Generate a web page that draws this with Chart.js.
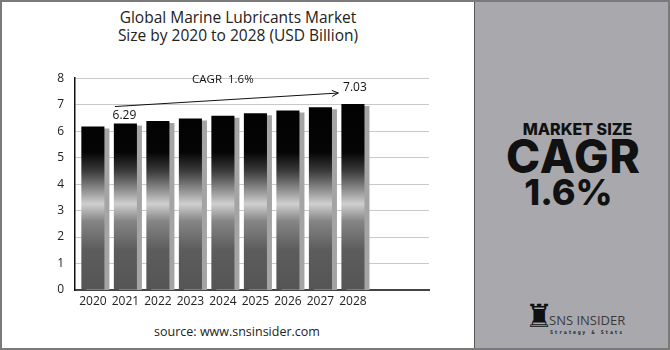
<!DOCTYPE html>
<html>
<head>
<meta charset="utf-8">
<script src="https://cdn.jsdelivr.net/npm/chart.js@4.4.1/dist/chart.umd.min.js"></script>
<style>
  html, body { margin: 0; padding: 0; background: #fff; }
  #page { position: relative; width: 670px; height: 350px; box-sizing: border-box;
          border: 2px solid #7a7a7a; overflow: hidden; font-family: "Open Sans", sans-serif; }
  #title { position: absolute; left: 0; top: 6px; width: 472px; text-align: center;
           font-size: 15.5px; line-height: 18px; color: #222; }
  #source { position: absolute; left: 0; top: 321px; width: 470px; text-align: center;
            font-size: 12.5px; color: #222; }
  #chartBox { position: absolute; left: -2px; top: 58px; width: 474px; height: 252px; }
  #side { position: absolute; left: 472px; top: -2px; width: 198px; height: 352px;
          background: #a9a9ad; border-left: 1px solid #555; box-sizing: border-box;
          font-family: Inter, sans-serif; color: #111; text-align: center; }
  #side .l1 { position: absolute; left: 0; width: 100%; top: 119px; font-size: 16px; font-weight: 800; padding-left: 4px; }
  #side .l2 { position: absolute; left: 0; width: 100%; top: 128px; font-size: 46px; font-weight: 800; letter-spacing: 1px; }
  #side .l3 { position: absolute; left: 0; width: 100%; top: 170px; font-size: 36px; font-weight: 800; padding-right: 10px; box-sizing: border-box; }
  #logo { position: absolute; left: 50px; top: 298px; width: 120px; height: 40px; }
  #logo .icon { position: absolute; left: 0; top: 0; font-size: 32px; line-height: 36px; color: #111; font-family: "DejaVu Sans"; }
  #logo .name { position: absolute; left: 24px; top: 13px; font-size: 13px; color: #3a3a3a; font-family: "Open Sans", sans-serif; }
  #logo .tag { position: absolute; left: 25px; top: 31px; font-size: 5px; letter-spacing: 1.6px; color: #222; font-family: "DejaVu Sans Mono"; font-weight: bold; }
</style>
</head>
<body>
<div id="page">
  <div id="title">Global Marine Lubricants Market<br>Size by 2020 to 2028 (USD Billion)</div>
  <div id="chartBox"><canvas id="marketChart"></canvas></div>
  <div id="source">source: www.snsinsider.com</div>
  <div id="side">
    <div class="l1">MARKET SIZE</div>
    <div class="l2">CAGR</div>
    <div class="l3">1.6%</div>
    <div id="logo">
      <div class="icon">&#9820;</div>
      <div class="name">SNS INSIDER</div>
      <div class="tag">Strategy &amp; Stats</div>
    </div>
  </div>
</div>
<script>
// market values (USD billion)
const years = [2020, 2021, 2022, 2023, 2024, 2025, 2026, 2027, 2028];
const marketSize = [6.18, 6.29, 6.38, 6.48, 6.58, 6.68, 6.78, 6.9, 7.03];
const yTicks = [0, 1, 2, 3, 4, 5, 6, 7, 8];
const labelledYears = [2021, 2028];
const cagrText = 'CAGR  1.6%';

function barGradient(chart) {
    const { ctx, chartArea, scales } = chart;
    if (!chartArea) return '#222';
    const y0 = scales.y.getPixelForValue(0);
    const y8 = scales.y.getPixelForValue(8);
    const g = ctx.createLinearGradient(0, y0, 0, y8);
    g.addColorStop(0, '#555');
    g.addColorStop(1.5 / 8, '#5c5c5c');
    g.addColorStop(2.6 / 8, '#858585');
    g.addColorStop(3.25 / 8, '#cfcfcf');
    g.addColorStop(3.8 / 8, '#8c8c8c');
    g.addColorStop(4.5 / 8, '#3a3a3a');
    g.addColorStop(5.2 / 8, '#050505');
    g.addColorStop(1, '#000');
    return g;
}

// grey drop shadow to the right of each bar
const barShadow = {
    id: 'barShadow',
    beforeDatasetsDraw(chart) {
        const ctx = chart.ctx;
        ctx.save();
        ctx.shadowColor = '#a4a4a4';
        ctx.shadowOffsetX = 5;
        ctx.shadowOffsetY = 2;
        ctx.shadowBlur = 0;
    },
    afterDatasetsDraw(chart) {
        chart.ctx.restore();
    }
};

// value labels and the CAGR arrow
const annotations = {
    id: 'annotations',
    afterDraw(chart) {
        const { ctx, scales: { x, y } } = chart;
        ctx.save();
        ctx.fillStyle = '#111';
        ctx.font = '12px "Open Sans"';
        ctx.textAlign = 'center';
        ctx.textBaseline = 'bottom';
        labelledYears.forEach(yr => {
            const i = years.indexOf(yr);
            const px = x.getPixelForValue(yr);
            const lift = yr === 2028 ? 10 : 2;
            ctx.fillText(marketSize[i].toFixed(2), px + (yr === 2028 ? 2 : -1), y.getPixelForValue(marketSize[i]) - lift);
        });
        const x1 = x.getPixelForValue(2020.68), y1 = y.getPixelForValue(6.93);
        const x2 = x.getPixelForValue(2027.55), y2 = y.getPixelForValue(7.44);
        ctx.strokeStyle = '#111';
        ctx.lineWidth = 1;
        ctx.beginPath();
        ctx.moveTo(x1, y1);
        ctx.lineTo(x2, y2);
        const a = Math.atan2(y2 - y1, x2 - x1);
        ctx.moveTo(x2 - 7 * Math.cos(a - 0.45), y2 - 7 * Math.sin(a - 0.45));
        ctx.lineTo(x2, y2);
        ctx.lineTo(x2 - 7 * Math.cos(a + 0.45), y2 - 7 * Math.sin(a + 0.45));
        ctx.stroke();
        ctx.font = '11.5px "Open Sans"';
        ctx.textAlign = 'left';
        ctx.textBaseline = 'middle';
        ctx.fillText(cagrText, x.getPixelForValue(2023.05), y.getPixelForValue(7.95));
        ctx.restore();
    }
};

const ctx = document.getElementById('marketChart').getContext('2d');
new Chart(ctx, {
    type: 'bar',
    data: {
        datasets: [{
            data: years.map((yr, i) => ({ x: yr, y: marketSize[i] })),
            backgroundColor: c => barGradient(c.chart),
            borderWidth: 0,
            barPercentage: 0.71,
            categoryPercentage: 1
        }]
    },
    options: {
        responsive: true,
        maintainAspectRatio: false,
        animation: false,
        layout: { padding: { left: 35, right: 45, top: 16, bottom: 0 } },
        plugins: { legend: { display: false }, tooltip: { enabled: false } },
        scales: {
            x: {
                type: 'linear',
                offset: false,
                min: 2019.45,
                max: 2030.34,
                afterBuildTicks: s => { s.ticks = years.map(v => ({ value: v })); },
                afterFit: s => { s.height = 22; },
                grid: { display: false, drawTicks: false },
                border: { color: '#444', width: 2 },
                ticks: {
                    color: '#222',
                    font: { family: 'Open Sans', size: 12 },
                    padding: 4,
                    maxRotation: 0,
                    callback: v => String(v)
                }
            },
            y: {
                min: 0,
                max: 8,
                afterBuildTicks: s => { s.ticks = yTicks.map(v => ({ value: v })); },
                afterFit: s => { s.width = 40; },
                grid: { color: '#c9c9c9', lineWidth: 1, drawTicks: false },
                border: { color: '#111', width: 1.5 },
                ticks: {
                    color: '#222',
                    font: { family: 'Open Sans', size: 12 },
                    padding: 11
                }
            }
        }
    },
    plugins: [barShadow, annotations]
});
</script>
</body>
</html>
